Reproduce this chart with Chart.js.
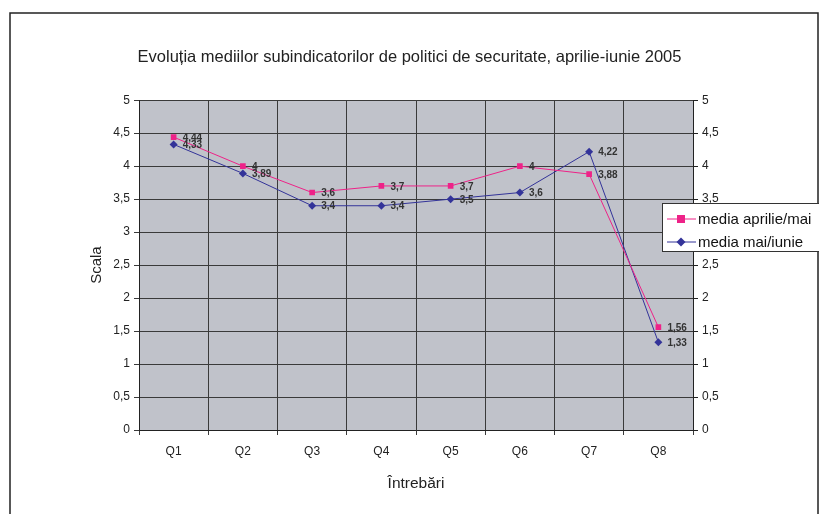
<!DOCTYPE html>
<html>
<head>
<meta charset="utf-8">
<script src="https://cdn.jsdelivr.net/npm/chart.js@4/dist/chart.umd.min.js"></script>
<style>
  html, body { margin: 0; padding: 0; background: #fff; }
  #wrap { position: relative; width: 819px; height: 514px; }
</style>
</head>
<body>
<div id="wrap"><canvas id="c" width="819" height="514"></canvas></div>
<script>
  "use strict";

  // date
  const categories = ["Q1", "Q2", "Q3", "Q4", "Q5", "Q6", "Q7", "Q8"];
  const mediaAprilieMai = [4.44, 4, 3.6, 3.7, 3.7, 4, 3.88, 1.56];
  const mediaMaiIunie = [4.33, 3.89, 3.4, 3.4, 3.5, 3.6, 4.22, 1.33];
  const seriesNames = ["media aprilie/mai", "media mai/iunie"];
  const yTicks = [0, 0.5, 1, 1.5, 2, 2.5, 3, 3.5, 4, 4.5, 5];

  const FONT = "'Liberation Sans', Arial, sans-serif";
  const PINK = "#ee2288";
  const NAVY = "#333399";
  const PLOT_BG = "#c0c2ca";
  const GRID = "#3a3a3a";

  function fmt(v) {
    return String(v).replace(".", ",");
  }

  // cadrul exterior + fundalul zonei de desen
  const framePlugin = {
    id: "frame",
    beforeDraw(chart) {
      const { ctx, chartArea } = chart;
      ctx.save();
      ctx.fillStyle = PLOT_BG;
      ctx.fillRect(chartArea.left, chartArea.top,
        chartArea.right - chartArea.left, chartArea.bottom - chartArea.top);
      ctx.strokeStyle = "#222";
      ctx.lineWidth = 1.5;
      ctx.beginPath();
      ctx.moveTo(10, 520);
      ctx.lineTo(10, 13);
      ctx.lineTo(818, 13);
      ctx.lineTo(818, 520);
      ctx.stroke();
      ctx.restore();
    },
  };

  // etichete de valori langa puncte
  const valueLabels = {
    id: "valueLabels",
    afterDatasetsDraw(chart) {
      const ctx = chart.ctx;
      ctx.save();
      ctx.font = "bold 10px " + FONT;
      ctx.fillStyle = "#333";
      ctx.textAlign = "left";
      ctx.textBaseline = "middle";
      chart.data.datasets.forEach((ds, i) => {
        chart.getDatasetMeta(i).data.forEach((pt, j) => {
          ctx.fillText(fmt(ds.data[j]), pt.x + 9, pt.y + 1);
        });
      });
      ctx.restore();
    },
  };

  // legenda suprapusa peste axa din dreapta
  const boxLegend = {
    id: "boxLegend",
    afterDraw(chart) {
      const ctx = chart.ctx;
      const x0 = 662, y0 = 203, w = 170, h = 48;
      ctx.save();
      ctx.fillStyle = "#fff";
      ctx.fillRect(x0, y0, w, h);
      ctx.strokeStyle = "#333";
      ctx.lineWidth = 1;
      ctx.strokeRect(x0 + 0.5, y0 + 0.5, w, h);
      ctx.font = "15px " + FONT;
      ctx.textBaseline = "middle";
      chart.data.datasets.forEach((ds, i) => {
        const y = y0 + 16 + i * 23;
        ctx.strokeStyle = ds.borderColor;
        ctx.lineWidth = 1;
        ctx.beginPath();
        ctx.moveTo(667, y);
        ctx.lineTo(696, y);
        ctx.stroke();
        ctx.fillStyle = ds.backgroundColor;
        if (ds.pointStyle === "rect") {
          ctx.fillRect(677, y - 4, 8, 8);
        } else {
          ctx.beginPath();
          ctx.moveTo(681, y - 4.5);
          ctx.lineTo(685.5, y);
          ctx.lineTo(681, y + 4.5);
          ctx.lineTo(676.5, y);
          ctx.closePath();
          ctx.fill();
        }
        ctx.fillStyle = "#111";
        ctx.fillText(ds.label, 698, y + 1);
      });
      ctx.restore();
    },
  };

  const yTickOpts = {
    color: "#222",
    font: { family: FONT, size: 12 },
    padding: 4,
    autoSkip: false,
    callback: (v) => fmt(v),
  };

  new Chart(document.getElementById("c"), {
    type: "line",
    data: {
      labels: categories,
      datasets: [
        {
          label: seriesNames[0],
          data: mediaAprilieMai,
          borderColor: PINK,
          backgroundColor: PINK,
          borderWidth: 1,
          pointStyle: "rect",
          pointRadius: 4,
          pointBorderWidth: 0,
          tension: 0,
        },
        {
          label: seriesNames[1],
          data: mediaMaiIunie,
          borderColor: NAVY,
          backgroundColor: NAVY,
          borderWidth: 1,
          pointStyle: "rectRot",
          pointRadius: 4,
          pointBorderWidth: 0,
          tension: 0,
        },
      ],
    },
    options: {
      responsive: false,
      animation: false,
      layout: { padding: 0 },
      plugins: {
        legend: { display: false },
        tooltip: { enabled: false },
        title: {
          display: true,
          text: "Evoluția mediilor subindicatorilor de politici de securitate, aprilie-iunie 2005",
          color: "#222",
          font: { family: FONT, size: 16.5, weight: "normal" },
          padding: { top: 48, bottom: 32.4 },
        },
      },
      scales: {
        x: {
          offset: true,
          grid: { offset: true, color: GRID, lineWidth: 1, tickLength: 5, drawTicks: true },
          border: { color: "#222", width: 1 },
          ticks: { color: "#222", font: { family: FONT, size: 12 }, padding: 9 },
          title: {
            display: true,
            text: "Întrebări",
            color: "#222",
            font: { family: FONT, size: 15.5 },
            padding: { bottom: 21 },
          },
          afterFit(s) { s.height = 84; },
        },
        y: {
          position: "left",
          min: 0,
          max: 5,
          afterBuildTicks(s) { s.ticks = yTicks.map((v) => ({ value: v })); },
          grid: { color: GRID, lineWidth: 1, tickLength: 5 },
          border: { color: "#222", width: 1 },
          ticks: yTickOpts,
          title: {
            display: true,
            text: "Scala",
            color: "#222",
            font: { family: FONT, size: 15 },
            padding: { top: 88 },
          },
          afterFit(s) { s.width = 139; },
        },
        y2: {
          position: "right",
          min: 0,
          max: 5,
          afterBuildTicks(s) { s.ticks = yTicks.map((v) => ({ value: v })); },
          grid: { drawOnChartArea: false, color: "#222", tickLength: 5 },
          border: { color: "#222", width: 1 },
          ticks: yTickOpts,
          afterFit(s) { s.width = 126; },
        },
      },
    },
    plugins: [framePlugin, valueLabels, boxLegend],
  });
</script>
</body>
</html>
